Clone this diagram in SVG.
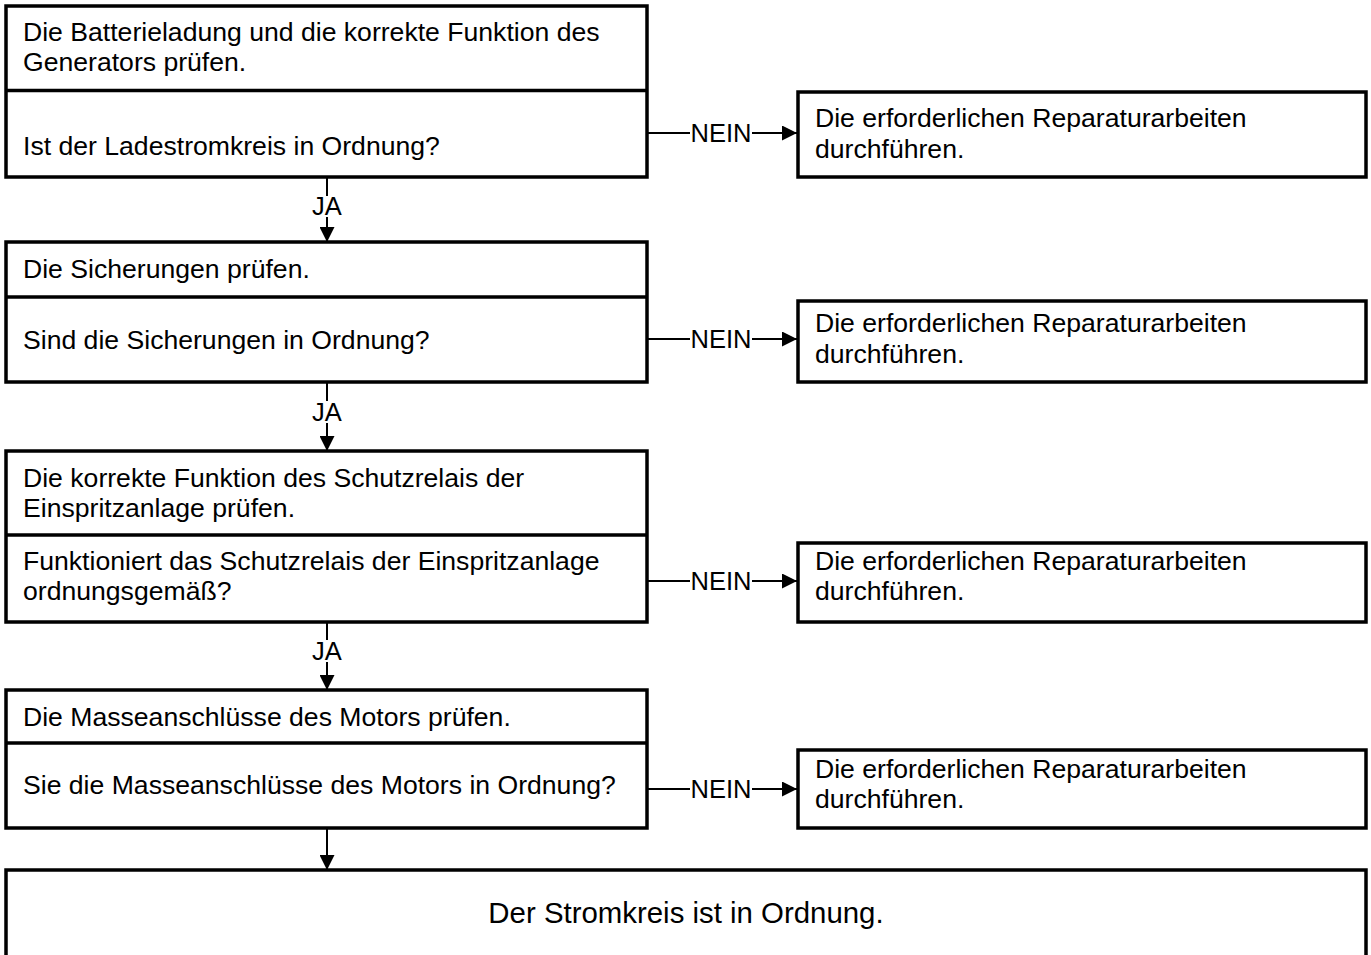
<svg xmlns="http://www.w3.org/2000/svg" width="1371" height="955" viewBox="0 0 1371 955">
<defs>
<style>
.box{fill:#fff;stroke:#000;stroke-width:3.5}
.div{stroke:#000;stroke-width:3.5}
.t{font-family:"Liberation Sans",Arial,sans-serif;font-size:26.6px;fill:#000}
.big{font-family:"Liberation Sans",Arial,sans-serif;font-size:29.4px;fill:#000}
.lab{font-family:"Liberation Sans",Arial,sans-serif;font-size:25.5px;fill:#000}
.c{stroke:#000;stroke-width:2;fill:none}
</style>
<marker id="ahb" markerWidth="15" markerHeight="15" refX="15" refY="7.5" orient="auto" markerUnits="userSpaceOnUse" viewBox="0 0 15 15">
<path d="M0,0 L15,7.5 L0,15 Z" fill="#000"/>
</marker>
</defs>
<rect width="1371" height="955" fill="#fff"/>

<g id="connectors">
<line class="c" x1="327" y1="177" x2="327" y2="196"/>
<line class="c" x1="327" y1="217" x2="327" y2="242" marker-end="url(#ahb)"/>
<line class="c" x1="327" y1="382" x2="327" y2="401"/>
<line class="c" x1="327" y1="423" x2="327" y2="451" marker-end="url(#ahb)"/>
<line class="c" x1="327" y1="622" x2="327" y2="640"/>
<line class="c" x1="327" y1="662" x2="327" y2="690" marker-end="url(#ahb)"/>
<line class="c" x1="327" y1="828" x2="327" y2="870" marker-end="url(#ahb)"/>

<line class="c" x1="647" y1="133" x2="690" y2="133"/>
<line class="c" x1="752" y1="133" x2="797" y2="133" marker-end="url(#ahb)"/>
<line class="c" x1="647" y1="339" x2="690" y2="339"/>
<line class="c" x1="752" y1="339" x2="797" y2="339" marker-end="url(#ahb)"/>
<line class="c" x1="647" y1="581" x2="690" y2="581"/>
<line class="c" x1="752" y1="581" x2="797" y2="581" marker-end="url(#ahb)"/>
<line class="c" x1="647" y1="789" x2="690" y2="789"/>
<line class="c" x1="752" y1="789" x2="797" y2="789" marker-end="url(#ahb)"/>

<text class="lab" x="327" y="215" text-anchor="middle">JA</text>
<text class="lab" x="327" y="421" text-anchor="middle">JA</text>
<text class="lab" x="327" y="660" text-anchor="middle">JA</text>
<text class="lab" x="721" y="142" text-anchor="middle">NEIN</text>
<text class="lab" x="721" y="348" text-anchor="middle">NEIN</text>
<text class="lab" x="721" y="590" text-anchor="middle">NEIN</text>
<text class="lab" x="721" y="798" text-anchor="middle">NEIN</text>
</g>

<g id="n1">
<rect class="box" x="6" y="6" width="641" height="171"/>
<line class="div" x1="6" y1="90.5" x2="647" y2="90.5"/>
<text class="t" x="23" y="41">Die Batterieladung und die korrekte Funktion des</text>
<text class="t" x="23" y="71">Generators prüfen.</text>
<text class="t" x="23" y="155">Ist der Ladestromkreis in Ordnung?</text>
</g>
<g id="r1">
<rect class="box" x="798" y="92" width="568" height="85"/>
<text class="t" x="815" y="127">Die erforderlichen Reparaturarbeiten</text>
<text class="t" x="815" y="158">durchführen.</text>
</g>

<g id="n2">
<rect class="box" x="6" y="242" width="641" height="140"/>
<line class="div" x1="6" y1="297" x2="647" y2="297"/>
<text class="t" x="23" y="278">Die Sicherungen prüfen.</text>
<text class="t" x="23" y="349">Sind die Sicherungen in Ordnung?</text>
</g>
<g id="r2">
<rect class="box" x="798" y="301" width="568" height="81"/>
<text class="t" x="815" y="332">Die erforderlichen Reparaturarbeiten</text>
<text class="t" x="815" y="363">durchführen.</text>
</g>

<g id="n3">
<rect class="box" x="6" y="451" width="641" height="171"/>
<line class="div" x1="6" y1="535" x2="647" y2="535"/>
<text class="t" x="23" y="487">Die korrekte Funktion des Schutzrelais der</text>
<text class="t" x="23" y="517">Einspritzanlage prüfen.</text>
<text class="t" x="23" y="570">Funktioniert das Schutzrelais der Einspritzanlage</text>
<text class="t" x="23" y="600">ordnungsgemäß?</text>
</g>
<g id="r3">
<rect class="box" x="798" y="543" width="568" height="79"/>
<text class="t" x="815" y="570">Die erforderlichen Reparaturarbeiten</text>
<text class="t" x="815" y="600">durchführen.</text>
</g>

<g id="n4">
<rect class="box" x="6" y="690" width="641" height="138"/>
<line class="div" x1="6" y1="743" x2="647" y2="743"/>
<text class="t" x="23" y="726">Die Masseanschlüsse des Motors prüfen.</text>
<text class="t" x="23" y="794">Sie die Masseanschlüsse des Motors in Ordnung?</text>
</g>
<g id="r4">
<rect class="box" x="798" y="750" width="568" height="78"/>
<text class="t" x="815" y="778">Die erforderlichen Reparaturarbeiten</text>
<text class="t" x="815" y="808">durchführen.</text>
</g>

<g id="n5">
<rect class="box" x="6" y="870" width="1360" height="100"/>
<text class="big" x="686" y="923" text-anchor="middle">Der Stromkreis ist in Ordnung.</text>
</g>
</svg>
